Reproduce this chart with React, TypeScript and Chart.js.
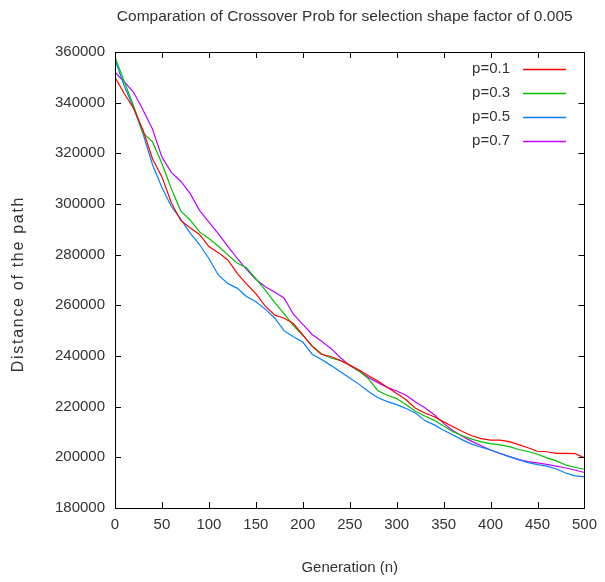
import React, { useEffect, useRef } from "react";
import { Chart, registerables } from "chart.js";

Chart.register(...registerables);

const generations = [0,10,20,30,40,50,60,70,80,90,100,110,120,130,140,150,160,170,180,190,200,210,220,230,240,250,260,270,280,290,300,310,320,330,340,350,360,370,380,390,400,410,420,430,440,450,460,470,480,490,500];

const p01 = [350000,343500,337600,329000,317800,310700,300500,293500,290600,288000,283200,280800,278000,272700,268500,264600,259700,256200,254900,252800,248300,243800,240600,239800,238200,236400,234500,232200,230100,227700,225200,222700,219400,217500,216000,214000,212100,210200,208500,207400,206800,206800,206200,205000,203800,202400,202200,201600,201600,201500,199800];
const p03 = [358000,348200,338500,328000,324500,316000,306000,297300,293700,289000,286400,283300,280000,276700,274800,270500,266000,261200,256700,252000,248200,244000,240800,239200,238300,236400,234100,231000,226300,224500,223200,220800,218200,216300,214600,212400,210100,208500,207200,206100,205400,204900,204200,203100,202300,201200,199800,198600,197000,196000,195300];
const p05 = [357000,346500,337800,327500,315500,306500,299000,294000,288500,284000,278500,272000,268600,266800,263500,261400,258500,255000,250000,247600,245500,240700,238600,236300,233800,231300,228800,226000,223500,222000,220800,219300,217500,214500,212800,210700,208800,206900,205200,204000,202900,201600,200300,199100,197900,197100,196500,195400,193800,192700,192300];
const p07 = [352000,348200,344000,337000,329500,318500,312500,309000,304200,297500,292800,288300,283400,278600,274200,270300,267300,265300,262900,256500,252500,248500,245800,243000,239400,236200,234000,231500,229500,227600,226200,224500,221800,219600,216800,213400,210500,208300,206300,204600,202900,201500,200300,199100,198300,197800,197200,196500,195800,195000,194000];

const seriesLabels = ["p=0.1", "p=0.3", "p=0.5", "p=0.7"];
const seriesValues = [p01, p03, p05, p07];
const seriesColors = ["#ff0000", "#00c000", "#0080ff", "#c000ff"];

const titleText = "Comparation of Crossover Prob for selection shape factor of 0.005";
const xTitle = "Generation (n)";
const yTitle = "Distance of the path";

const FONT = "'Liberation Sans', Arial, sans-serif";
const TEXT = "#333";

const framePlugin = {
  id: "gnuFrame",
  afterDraw(chart: any) {
    const { ctx, chartArea } = chart;
    const { left, right, top, bottom } = chartArea;
    const xs = chart.scales.x;
    const ys = chart.scales.y;
    ctx.save();
    ctx.strokeStyle = "#000";
    ctx.lineWidth = 1;
    ctx.beginPath();
    const L = 6;
    xs.ticks.forEach((t: any) => {
      const px = Math.round(xs.getPixelForValue(t.value)) + 0.5;
      ctx.moveTo(px, bottom);
      ctx.lineTo(px, bottom - L);
      ctx.moveTo(px, top);
      ctx.lineTo(px, top + L);
    });
    ys.ticks.forEach((t: any) => {
      const py = Math.round(ys.getPixelForValue(t.value)) + 0.5;
      ctx.moveTo(left, py);
      ctx.lineTo(left + L, py);
      ctx.moveTo(right, py);
      ctx.lineTo(right - L, py);
    });
    ctx.stroke();
    ctx.strokeRect(Math.round(left) + 0.5, Math.round(top) + 0.5, Math.round(right - left), Math.round(bottom - top));

    // title
    ctx.fillStyle = TEXT;
    ctx.font = `15.5px ${FONT}`;
    ctx.textAlign = "center";
    ctx.textBaseline = "middle";
    ctx.fillText(titleText, (left + right) / 2 - 5, 17);
    // x title
    ctx.font = `15px ${FONT}`;
    ctx.fillText(xTitle, (left + right) / 2, 568);
    // y title
    ctx.save();
    ctx.translate(19, 284);
    ctx.rotate(-Math.PI / 2);
    ctx.font = `16px ${FONT}`;
    try { (ctx as any).letterSpacing = "1.7px"; } catch (e) {}
    ctx.fillText(yTitle, 0, 0);
    try { (ctx as any).letterSpacing = "0px"; } catch (e) {}
    ctx.restore();

    // legend
    seriesLabels.forEach((lab, i) => {
      const y = 69 + i * 24;
      ctx.font = `15px ${FONT}`;
      ctx.textAlign = "right";
      ctx.fillStyle = TEXT;
      ctx.fillText(lab, 510, y);
      ctx.strokeStyle = seriesColors[i];
      ctx.lineWidth = 1.5;
      ctx.beginPath();
      ctx.moveTo(523, Math.round(y) + 0.5);
      ctx.lineTo(566, Math.round(y) + 0.5);
      ctx.stroke();
    });
    ctx.restore();
  },
};

export default function App() {
  const ref = useRef<HTMLCanvasElement | null>(null);
  useEffect(() => {
    if (!ref.current) return;
    const chart = new Chart(ref.current, {
      type: "line",
      data: {
        datasets: seriesValues.map((vals, i) => ({
          label: seriesLabels[i],
          data: vals.map((v, j) => ({ x: generations[j], y: v })),
          borderColor: seriesColors[i],
          backgroundColor: seriesColors[i],
          borderWidth: 1.2,
          pointRadius: 0,
          tension: 0,
          fill: false,
        })),
      },
      options: {
        animation: false,
        responsive: false,
        maintainAspectRatio: false,
        layout: { padding: { left: 0, right: 20, top: 52, bottom: 0 } },
        plugins: {
          legend: { display: false },
          title: { display: false },
          tooltip: { enabled: false },
        },
        scales: {
          x: {
            type: "linear",
            min: 0,
            max: 500,
            ticks: { stepSize: 50, color: TEXT, font: { family: FONT, size: 15 }, padding: 8, maxRotation: 0, callback: (v: any) => String(v) },
            grid: { display: false, drawTicks: false },
            border: { display: false },
            afterFit: (s: any) => { s.height = 74; },
          },
          y: {
            type: "linear",
            min: 180000,
            max: 360000,
            ticks: { stepSize: 20000, color: TEXT, font: { family: FONT, size: 15 }, padding: 10, callback: (v: any) => String(v) },
            grid: { display: false, drawTicks: false },
            border: { display: false },
            afterFit: (s: any) => { s.width = 115; },
          },
        },
      },
      plugins: [framePlugin],
    });
    return () => chart.destroy();
  }, []);
  return (
    <div style={{ position: "absolute", left: 0, top: 0, width: 605, height: 582, background: "#fff" }}>
      <canvas ref={ref} width={605} height={582} style={{ width: 605, height: 582 }} />
    </div>
  );
}
